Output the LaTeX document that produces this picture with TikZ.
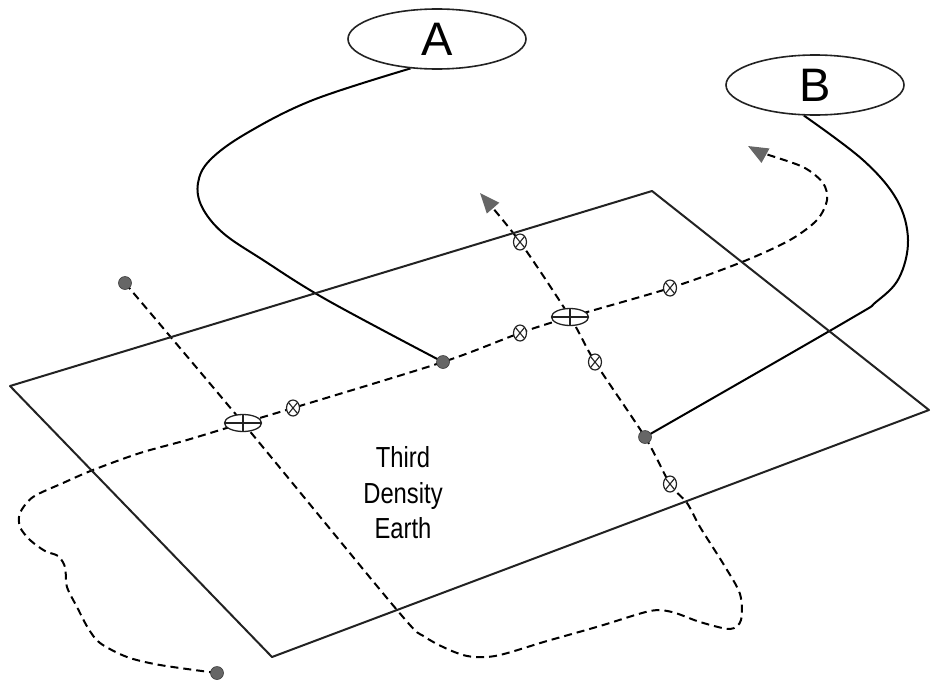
\documentclass[tikz,border=0pt]{standalone}
\usepackage{fontspec}
\setmainfont{Liberation Sans}
\newfontfamily\narrowfont[FakeStretch=0.82]{Liberation Sans}
\usetikzlibrary{shapes.geometric, arrows.meta, backgrounds}

\definecolor{dotgray}{HTML}{666666}
\definecolor{inkgray}{HTML}{222222}

\begin{document}
\begin{tikzpicture}[x=1pt, y=-1pt, line join=round, draw=inkgray,
bubble/.style={ellipse,draw,line width=1.6pt,minimum width=178pt,minimum height=60pt,inner sep=0pt,font=\fontsize{47}{47}\selectfont},
spot/.style={circle,fill=dotgray,draw=dotgray!60!black,line width=0.6pt,inner sep=0pt,minimum size=13pt},
xmark/.style={ellipse,draw,fill=white,line width=1.2pt,inner sep=0pt,minimum width=13pt,minimum height=16pt,
  path picture={\draw[line width=1.1pt] (path picture bounding box.north west) -- (path picture bounding box.south east)
  (path picture bounding box.north east) -- (path picture bounding box.south west);}},
flatmark/.style={ellipse,draw,fill=white,line width=1.3pt,inner sep=0pt,minimum width=37pt,minimum height=17pt,
  path picture={\draw[line width=1.1pt] (path picture bounding box.north) -- (path picture bounding box.south)
  (path picture bounding box.west) -- (path picture bounding box.east);}},
wire/.style={line width=2pt},
route/.style={line width=2pt,dash pattern=on 8pt off 5pt},
tip/.style={-{Triangle[length=20pt,width=16pt,color=dotgray,fill=dotgray]}}]

\useasboundingbox (0,0) rectangle (931,680);

%plane
\draw[wire] (10,386) -- (652,191) -- (929,410) -- (272,657) -- cycle;

\node[bubble] (bubA) at (437,39) {A};
\node[bubble] (bubB) at (815,85) {B};

\node[font=\narrowfont\fontsize{29}{35.5}\selectfont, align=center] (earth) at (403,493) {Third\\Density\\Earth};

%markers
\foreach \n/\x/\y in {dotL/125/283, dotA/443/362, dotB/645/437, dotS/217/673}
{\node[spot] (\n) at (\x,\y) {}; }

\foreach \n/\x/\y in {x1/293/408, x2/520/333, x3/670/288, x4/520/242, x5/595/362, x6/670/484}
{\node[xmark] (\n) at (\x,\y) {}; }

\node[flatmark] (pairL) at (243,423) {};
\node[flatmark] (pairR) at (570,317) {};

\coordinate (tipV) at (480,193);
\coordinate (tipH) at (748,146);

\begin{scope}[on background layer]
\draw[wire] plot[smooth, tension=0.6] coordinates {(bubA.228) (313,100) (247,133) (210,160) (198,183) (202,207) (223,233) (263,260) (327,300) (dotA.center)};
\draw[wire] plot[smooth, tension=0.6] coordinates {(bubB.250) (863,160) (897,200) (908,240) (899,278) (876,302) (845,322) (dotB.center)};

\draw[route, tip] plot[smooth, tension=0.5] coordinates {(dotL.center) (pairL.center) (397,610) (425,637) (463,655) (495,656) (547,641) (600,626) (650,611) (672,612) (700,622) (730,629) (741,620) (740,594) (724,565) (700,527) (687,503) (x6.center) (dotB.center) (x5.center) (pairR.center) (x4.center) (tipV)};

\draw[route, tip] plot[smooth, tension=0.5] coordinates {(dotS.center) (160,665) (127,657) (100,643) (88,628) (77,607) (67,587) (65,567) (58,556) (45,551) (30,540) (20,527) (20,513) (33,497) (63,483) (93,470) (140,453) (187,440) (pairL.center) (x1.center) (dotA.center) (x2.center) (pairR.center) (x3.center) (742,262) (790,240) (817,220) (827,200) (823,183) (803,167) (763,153) (tipH)};
\end{scope}
\end{tikzpicture}
\end{document}
